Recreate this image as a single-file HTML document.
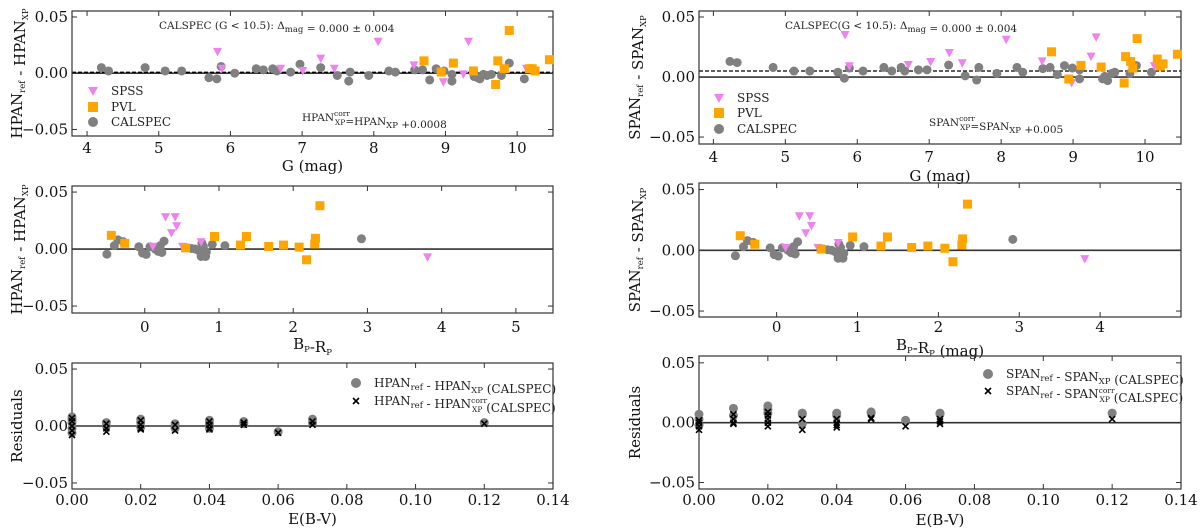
<!DOCTYPE html>
<html><head><meta charset="utf-8">
<style>
html,body{margin:0;padding:0;background:#fff;}
svg{display:block;font-family:"DejaVu Serif","Liberation Serif",serif;}
</style></head>
<body>
<svg id="fig" width="1200" height="528" viewBox="0 0 1200 528" xmlns="http://www.w3.org/2000/svg"></svg>
<script>
// ---------- DATA ----------
const hpanCalG=[4.2,4.3,4.81,5.09,5.32,5.7,5.81,5.87,6.06,6.36,6.46,6.59,6.65,6.84,6.97,7.26,7.49,7.65,7.67,7.93,8.21,8.3,8.57,8.68,8.78,8.87,8.98,9.09,9.09,9.4,9.45,9.48,9.53,9.58,9.64,9.78,9.89,10.1];
const hpanCalV=[.005,.002,.005,.002,.002,-.004,-.005,.006,0,.004,.003,.004,.002,.001,.008,.005,-.002,-.007,.001,-.002,.002,.001,.003,.003,-.006,.004,.002,-.001,-.007,-.003,-.004,-.005,-.001,-.002,-.001,-.002,.009,-.005];
const hpanSpssG=[5.82,5.88,6.7,7.01,7.26,7.45,8.06,8.56,8.97,9.25,9.32,10.13];
const hpanSpssV=[.019,.004,.004,.002,.013,.004,.028,.007,-.008,-.001,.028,.004];
const hpanPvlG=[8.7,8.94,9.11,9.39,9.7,9.73,9.82,9.89,10.17,10.21,10.25,10.45];
const hpanPvlV=[.011,.001,.009,.002,-.01,.011,.004,.038,.004,.004,.002,.012];

const spanCalG=[4.23,4.33,4.83,5.12,5.34,5.73,5.82,5.89,6.08,6.37,6.48,6.61,6.66,6.85,6.97,7.27,7.5,7.66,7.69,7.94,8.22,8.3,8.58,8.68,8.78,8.88,8.99,9.09,9.09,9.41,9.44,9.48,9.54,9.58,9.79,9.88,10.09];
const spanCalV=[.013,.012,.008,.005,.005,.004,-.001,.0075,.005,.008,.005,.008,.005,.006,.006,.010,.001,-.0025,.008,.003,.008,.004,.007,.008,.002,.0095,.0075,.006,-.0015,-.0015,.0005,-.003,.003,.004,.003,.0095,.004];
const spanSpssG=[5.83,5.89,6.71,7.02,7.28,7.46,8.07,8.57,8.98,9.25,9.32,10.13];
const spanSpssV=[.035,.009,.010,.0125,.020,.0115,.031,.013,-.005,.017,.033,.009];
const spanPvlG=[8.7,8.94,9.11,9.39,9.71,9.73,9.8,9.83,9.89,10.17,10.21,10.25,10.45];
const spanPvlV=[.021,-.0017,.0097,.0083,-.005,.017,.013,.0075,.032,.015,.009,.011,.019];

const colCalC=[-0.51,-0.41,-0.36,-0.29,-0.08,-0.03,0.02,0.07,0.14,0.18,0.21,0.23,0.26,0.63,0.68,0.73,0.76,0.77,0.79,0.82,0.83,0.91,1.08,2.92];
const colCalV=[-.0045,.003,.008,.0065,.002,-.0035,-.0047,.002,0,-.002,.003,-.003,.007,.0005,0,-.0015,-.0065,.005,.0023,-.0065,-.0025,.004,.003,.009];
const colSpssC=[0.11,0.28,0.36,0.41,0.43,0.51,0.76,3.81];
const colSpssV=[.002,.028,.014,.028,.02,.002,.006,-.0073];
const colPvlC=[-0.45,-0.27,0.55,0.94,1.29,1.37,1.67,1.87,2.08,2.18,2.29,2.3,2.36];
const colPvlV=[.012,.005,.001,.011,.0035,.011,.0023,.0035,.0017,-.0094,.0044,.0094,.038];

const resHpanCircE=[0,0,0,0,0,.01,.01,.02,.02,.02,.03,.03,.04,.04,.04,.05,.05,.06,.07,.07,.12];
const resHpanCircV=[.008,.006,.003,-.002,-.006,.003,0,.006,.003,-.001,.002,-.002,.005,.002,-.002,.004,.002,-.005,.006,.003,.003];
const resHpanXE=[0,0,0,0,0,.01,.01,.01,.02,.02,.02,.02,.03,.03,.04,.04,.04,.04,.05,.05,.06,.07,.07,.12];
const resHpanXV=[.007,.004,0,-.004,-.008,.002,-.002,-.005,.005,.001,-.002,-.003,.001,-.004,.004,.001,-.002,-.003,.003,.001,-.006,.004,.001,.002];

const resSpanCircE=[0,0,0,.01,.01,.02,.02,.02,.03,.03,.03,.04,.04,.05,.05,.06,.07,.07,.12];
const resSpanCircV=[.007,.003,-.002,.012,.006,.014,.011,.008,.008,.007,-.001,.008,.006,.009,.008,.002,.008,.007,.008];
const resSpanXE=[0,0,0,0,.01,.01,.01,.01,.02,.02,.02,.02,.02,.03,.03,.04,.04,.04,.04,.05,.05,.06,.07,.07,.07,.12];
const resSpanXV=[.002,0,-.003,-.006,.007,.003,0,-.001,.009,.006,.003,0,-.003,.003,-.006,.003,0,-.002,-.004,.004,.003,-.003,.003,.001,-.001,.003];

const yTicks=[0.05,0,-0.05];
const yTickLabels=["0.05","0.00","\u22120.05"];
const gTicks=[4,5,6,7,8,9,10];
const colTicksL=[0,1,2,3,4,5];
const colTicksR=[0,1,2,3,4];
const ebvTicks=[0,0.02,0.04,0.06,0.08,0.10,0.12,0.14];
const ebvTickLabels=["0.00","0.02","0.04","0.06","0.08","0.10","0.12","0.14"];
const hpanOffset=0.0008;
const spanOffset=0.005;

// ---------- DRAWING ----------
const NS="http://www.w3.org/2000/svg";
const svg=document.getElementById('fig');
function mk(tag,attrs,parent){const e=document.createElementNS(NS,tag);for(const k in attrs)e.setAttribute(k,attrs[k]);(parent||svg).appendChild(e);return e;}
const GRAY="#808080",VIO="#ee82ee",ORA="#ffa500";

function panel(cfg){
  const g=mk('g',{});
  
  
  const sx=v=>cfg.x0+(v-cfg.xmin)/(cfg.xmax-cfg.xmin)*(cfg.x1-cfg.x0);
  const sy=v=>cfg.y1-(v-cfg.ymin)/(cfg.ymax-cfg.ymin)*(cfg.y1-cfg.y0);
  cfg.sx=sx;cfg.sy=sy;cfg.g=g;
  const zl=mk('line',{x1:cfg.x0,x2:cfg.x1,y1:sy(0),y2:sy(0),stroke:'#333','stroke-width':1.6},g);
  
  
  if(cfg.offset!==undefined){
    const dl=mk('line',{x1:cfg.x0,x2:cfg.x1,y1:sy(cfg.offset),y2:sy(cfg.offset),stroke:'#000','stroke-width':1.3,'stroke-dasharray':'4,2'},g);
    
    
  }
  const fr=mk('rect',{x:cfg.x0,y:cfg.y0,width:cfg.x1-cfg.x0,height:cfg.y1-cfg.y0,fill:'none',stroke:'#333','stroke-width':1.2},g);
  
  
  yTicks.forEach((t,i)=>{
    const y=sy(t);
    mk('line',{x1:cfg.x0,x2:cfg.x0+5,y1:y,y2:y,stroke:'#333'},g);
    mk('line',{x1:cfg.x1,x2:cfg.x1-5,y1:y,y2:y,stroke:'#333'},g);
    const tl=mk('text',{x:cfg.x0-4,y:y+5,'text-anchor':'end','font-size':15,fill:'#111'},g);
    tl.textContent=yTickLabels[i];
    
    
  });
  cfg.xt.forEach((t,i)=>{
    const x=sx(t);
    mk('line',{x1:x,x2:x,y1:cfg.y1,y2:cfg.y1-5,stroke:'#333'},g);
    mk('line',{x1:x,x2:x,y1:cfg.y0,y2:cfg.y0+5,stroke:'#333'},g);
    const tl=mk('text',{x:x,y:cfg.tickY,'text-anchor':'middle','font-size':15,fill:'#111'},g);
    tl.textContent=cfg.xtl?cfg.xtl[i]:String(t);
    
    
  });
  const xt=mk('text',{x:(cfg.x0+cfg.x1)/2,y:cfg.titleY,'text-anchor':'middle','font-size':15,fill:'#111'},g);
  xt.innerHTML=cfg.xtitle;
  
  
  const cy=(cfg.y0+cfg.y1)/2;
  const yt=mk('text',{x:cfg.ytX,y:cy,'text-anchor':'middle','font-size':15,fill:'#111',transform:`rotate(-90 ${cfg.ytX} ${cy})`},g);
  yt.innerHTML=cfg.ytitle;
  
  
  return cfg;
}
function circ(p,xs,ys,name,col,r){
  xs.forEach((v,i)=>{
    const c=mk('circle',{cx:p.sx(v),cy:p.sy(ys[i]),r:r||4.5,fill:col||GRAY},p.g);
    
    
  });
}
function sq(p,xs,ys,name){
  xs.forEach((v,i)=>{
    const x=p.sx(v),y=p.sy(ys[i]);
    const s=mk('rect',{x:x-4.5,y:y-4.5,width:9,height:9,fill:ORA},p.g);
    
    
  });
}
function tri(p,xs,ys,name){
  xs.forEach((v,i)=>{
    const x=p.sx(v),y=p.sy(ys[i]);
    const t=mk('polygon',{points:`${x-4.5},${y-4} ${x+4.5},${y-4} ${x},${y+4.5}`,fill:VIO},p.g);
    
    
  });
}
function cross(p,xs,ys,name){
  xs.forEach((v,i)=>{
    const x=p.sx(v),y=p.sy(ys[i]);
    const c=mk('path',{d:`M${x-3},${y-3}L${x+3},${y+3}M${x-3},${y+3}L${x+3},${y-3}`,stroke:'#000','stroke-width':1.6},p.g);
    
    
  });
}
function txt(x,y,html,size,name,parent){
  const t=mk('text',{x:x,y:y,'font-size':size,fill:'#222'},parent);
  t.innerHTML=html;
  
  
  return t;
}
const sub=s=>`<tspan font-size="8.5" dy="3">${s}</tspan><tspan dy="-3"></tspan>`;
const subsup=(a,b)=>`<tspan font-size="7.5" dy="-5">${b}</tspan><tspan font-size="7.5" dx="-15" dy="9">${a}</tspan><tspan dy="-4"></tspan>`;

function legendItem(p,x,y,kind,label){
  const g=p.g;
  if(kind==='tri') mk('polygon',{points:`${x-5},${y-4} ${x+5},${y-4} ${x},${y+5}`,fill:VIO},g);
  if(kind==='sq') mk('rect',{x:x-5,y:y-5,width:10,height:10,fill:ORA},g);
  if(kind==='circ') mk('circle',{cx:x,cy:y,r:5,fill:GRAY},g);
  if(kind==='x') mk('path',{d:`M${x-3},${y-3}L${x+3},${y+3}M${x-3},${y+3}L${x+3},${y-3}`,stroke:'#000','stroke-width':1.6},g);
  txt(x+18,y+4,label,12,'legend-entry',g);
}

// ---- Left top
const p1=panel({name:'hpan-vs-g-panel',x0:72,x1:553,y0:11,y1:136,xmin:3.79,xmax:10.5,ymin:-0.0558,ymax:0.0553,xt:gTicks,tickY:153,titleY:171,xtitle:'G (mag)',ytitle:'HPAN'+sub('ref')+' - HPAN'+sub('XP'),ytX:22,offset:hpanOffset});
circ(p1,hpanCalG,hpanCalV,'calspec-point');tri(p1,hpanSpssG,hpanSpssV,'spss-point');sq(p1,hpanPvlG,hpanPvlV,'pvl-point');
txt(159,29,'CALSPEC (G &lt; 10.5): Δ'+sub('mag')+' = 0.000 ± 0.004',10.5,'stats-annotation',p1.g);
txt(302,121,'HPAN'+subsup('XP','corr')+'=HPAN'+sub('XP')+' +0.0008',10.5,'correction-annotation',p1.g);
legendItem(p1,93,91,'tri','SPSS');legendItem(p1,93,107,'sq','PVL');legendItem(p1,93,122,'circ','CALSPEC');

// ---- Left middle
const p2=panel({name:'hpan-vs-color-panel',x0:72,x1:553,y0:186,y1:313,xmin:-0.98,xmax:5.5,ymin:-0.0561,ymax:0.0553,xt:colTicksL,tickY:332,titleY:349,xtitle:'B'+sub('P')+'-R'+sub('P'),ytitle:'HPAN'+sub('ref')+' - HPAN'+sub('XP'),ytX:22});
circ(p2,colCalC,colCalV,'calspec-point');tri(p2,colSpssC,colSpssV,'spss-point');sq(p2,colPvlC,colPvlV,'pvl-point');

// ---- Left bottom
const p3=panel({name:'hpan-residuals-panel',x0:72,x1:553,y0:363,y1:489,xmin:0,xmax:0.14,ymin:-0.0553,ymax:0.0553,xt:ebvTicks,xtl:ebvTickLabels,tickY:505,titleY:524,xtitle:'E(B-V)',ytitle:'Residuals',ytX:22});
circ(p3,resHpanCircE,resHpanCircV,'residual-point');cross(p3,resHpanXE,resHpanXV,'corrected-residual-point');
legendItem(p3,356,383,'circ','HPAN'+sub('ref')+' - HPAN'+sub('XP')+' (CALSPEC)');
legendItem(p3,356,401,'x','HPAN'+sub('ref')+' - HPAN'+subsup('XP','corr')+' (CALSPEC)');

// ---- Right top
const p4=panel({name:'span-vs-g-panel',x0:699,x1:1181,y0:11,y1:144,xmin:3.8,xmax:10.5,ymin:-0.0558,ymax:0.055,xt:gTicks,tickY:162,titleY:181,xtitle:'G (mag)',ytitle:'SPAN'+sub('ref')+' - SPAN'+sub('XP'),ytX:640,offset:spanOffset});
circ(p4,spanCalG,spanCalV,'calspec-point');tri(p4,spanSpssG,spanSpssV,'spss-point');sq(p4,spanPvlG,spanPvlV,'pvl-point');
txt(785,29,'CALSPEC(G &lt; 10.5): Δ'+sub('mag')+' = 0.000 ± 0.004',10.5,'stats-annotation',p4.g);
txt(929,126,'SPAN'+subsup('XP','corr')+'=SPAN'+sub('XP')+' +0.005',10.5,'correction-annotation',p4.g);
legendItem(p4,719,98,'tri','SPSS');legendItem(p4,719,113,'sq','PVL');legendItem(p4,719,129,'circ','CALSPEC');

// ---- Right middle
const p5=panel({name:'span-vs-color-panel',x0:699,x1:1181,y0:183,y1:317,xmin:-0.96,xmax:5.0,ymin:-0.0549,ymax:0.0554,xt:colTicksR,tickY:332,titleY:350,xtitle:'B'+sub('P')+'-R'+sub('P')+' (mag)',ytitle:'SPAN'+sub('ref')+' - SPAN'+sub('XP'),ytX:640});
circ(p5,colCalC,colCalV,'calspec-point');tri(p5,colSpssC,colSpssV,'spss-point');sq(p5,colPvlC,colPvlV,'pvl-point');

// ---- Right bottom
const p6=panel({name:'span-residuals-panel',x0:699,x1:1181,y0:356,y1:489,xmin:0,xmax:0.14,ymin:-0.0554,ymax:0.0557,xt:ebvTicks,xtl:ebvTickLabels,tickY:505,titleY:525,xtitle:'E(B-V)',ytitle:'Residuals',ytX:640});
circ(p6,resSpanCircE,resSpanCircV,'residual-point');cross(p6,resSpanXE,resSpanXV,'corrected-residual-point');
legendItem(p6,988,374,'circ','SPAN'+sub('ref')+' - SPAN'+sub('XP')+' (CALSPEC)');
legendItem(p6,988,391,'x','SPAN'+sub('ref')+' - SPAN'+subsup('XP','corr')+' (CALSPEC)');
</script>
</body></html>
